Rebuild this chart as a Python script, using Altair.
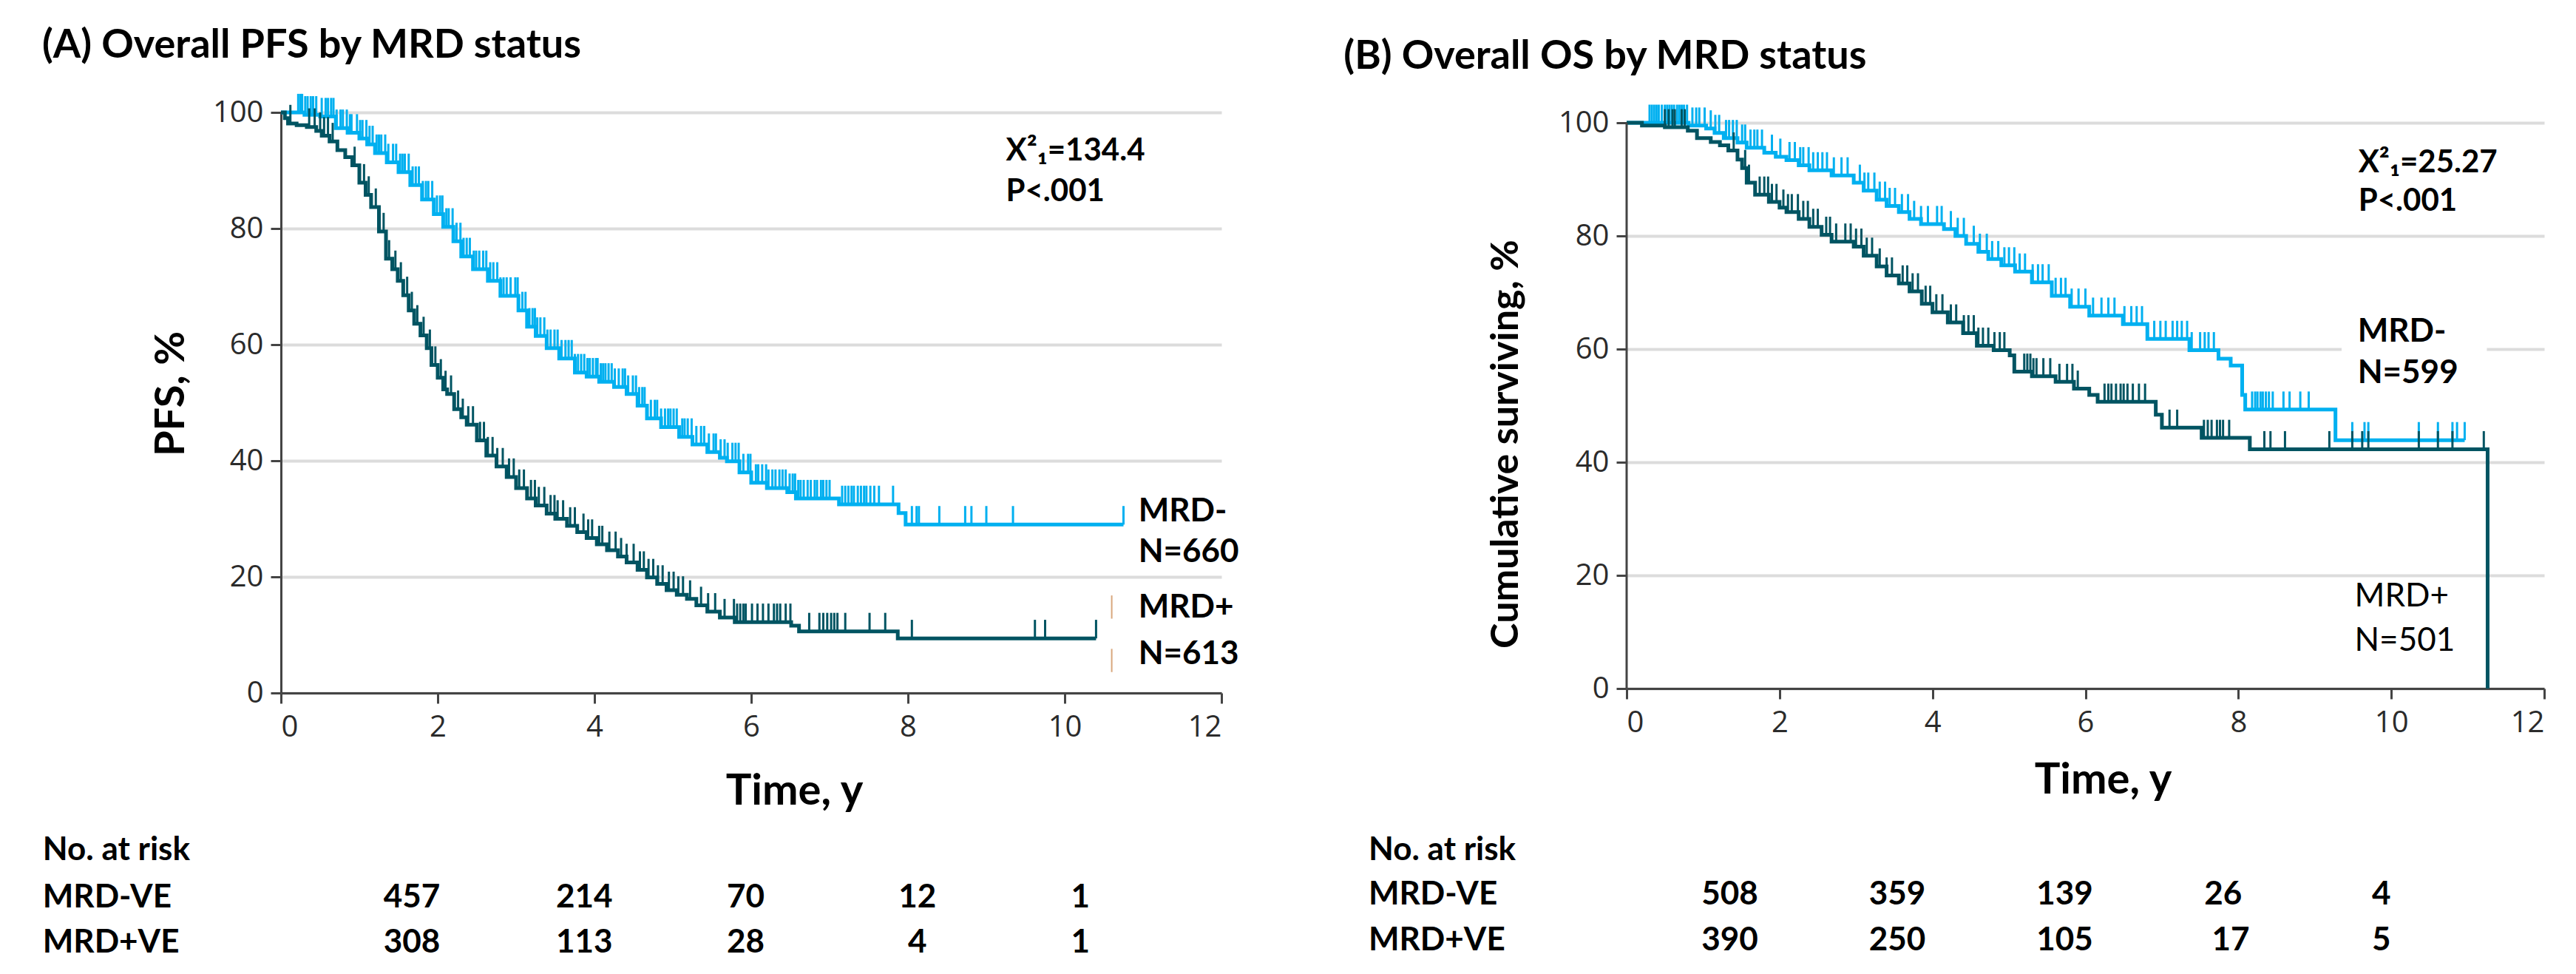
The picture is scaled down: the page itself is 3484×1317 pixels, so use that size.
import altair as alt
import pandas as pd
import numpy as np

# ---------------- data ----------------
# Panel A : PFS (Kaplan-Meier step points)
pfsA_neg_t = [0, 0.3, 0.5, 0.7, 0.85, 1.0, 1.1, 1.2, 1.35, 1.5, 1.65, 1.8, 1.95, 2.07, 2.2, 2.3, 2.45,
              2.64, 2.8, 3.03, 3.14, 3.25, 3.39, 3.55, 3.75, 3.9, 4.06, 4.25, 4.41, 4.55, 4.67, 4.85,
              5.08, 5.25, 5.44, 5.6, 5.69, 5.85, 6.0, 6.2, 6.46, 6.57, 7.12, 7.88, 7.97, 10.75]
pfsA_neg_s = [100, 99.6, 99.3, 97.3, 96.5, 95.5, 94.5, 93, 91.4, 89.7, 87.5, 85, 82.5, 80.3, 77.8, 75.2, 73,
              71, 68.4, 65.9, 63.1, 61.5, 59.4, 57.6, 55.2, 54.5, 53.6, 52.7, 51.5, 49.5, 47.3, 45.8,
              44.1, 42.8, 41.5, 40.5, 39.9, 38, 36.2, 35.3, 34.6, 33.5, 32.5, 31.0, 29.0, 29.0]
pfsA_pos_t = [0, 0.05, 0.09, 0.2, 0.33, 0.45, 0.52, 0.62, 0.72, 0.82, 0.91, 1.0, 1.08, 1.15, 1.25, 1.34,
              1.42, 1.49, 1.56, 1.63, 1.7, 1.78, 1.86, 1.92, 2.0, 2.07, 2.12, 2.21, 2.3, 2.37, 2.5, 2.62,
              2.75, 2.88, 3.0, 3.14, 3.25, 3.39, 3.5, 3.65, 3.78, 3.9, 4.03, 4.16, 4.3, 4.41, 4.55, 4.67,
              4.8, 4.92, 5.05, 5.18, 5.3, 5.44, 5.6, 5.79, 6.51, 6.61, 7.87, 10.4]
pfsA_pos_s = [100, 99, 98.1, 97.8, 97.5, 96.8, 96, 95, 93.5, 92.3, 90.9, 87.9, 85.8, 83.7, 79.5, 74.8,
              73, 71, 68.5, 65.9, 63.6, 61.6, 59.4, 56.5, 54.3, 52.3, 51.5, 48.9, 47.5, 46.2, 43.5, 40.9,
              39, 37.2, 35.3, 33.5, 32.3, 30.9, 30, 28.8, 27.7, 26.7, 25.6, 24.6, 23.5, 22.5, 21.2, 19.9,
              18.8, 17.7, 16.9, 16.2, 15.1, 14.0, 13.0, 12.2, 11.6, 10.6, 9.4, 9.4]
pfsA_neg_cens = [0.22, 0.25, 0.27, 0.31, 0.34, 0.38, 0.41, 0.45, 0.52, 0.57, 0.6, 0.64, 0.67, 0.71, 0.76,
                 0.79, 0.84, 0.88, 0.9, 0.97, 1.01, 1.04, 1.09, 1.13, 1.17, 1.22, 1.25, 1.28, 1.33, 1.37,
                 1.43, 1.47, 1.52, 1.55, 1.58, 1.63, 1.68, 1.72, 1.76, 1.81, 1.85, 1.88, 1.93, 1.99, 2.03,
                 2.06, 2.11, 2.14, 2.19, 2.24, 2.29, 2.33, 2.37, 2.41, 2.46, 2.49, 2.53, 2.58, 2.62, 2.67,
                 2.71, 2.76, 2.8, 2.84, 2.88, 2.93, 2.99, 3.02, 3.08, 3.12, 3.17, 3.21, 3.24, 3.27, 3.31,
                 3.36, 3.4, 3.44, 3.49, 3.53, 3.58, 3.63, 3.67, 3.71, 3.75, 3.79, 3.83, 3.87, 3.91, 3.94,
                 3.98, 4.02, 4.04, 4.08, 4.11, 4.14, 4.18, 4.22, 4.26, 4.31, 4.36, 4.39, 4.43, 4.49, 4.53,
                 4.57, 4.61, 4.64, 4.72, 4.77, 4.8, 4.85, 4.9, 4.94, 4.97, 5.01, 5.05, 5.12, 5.15, 5.19,
                 5.24, 5.3, 5.36, 5.4, 5.46, 5.52, 5.55, 5.61, 5.66, 5.7, 5.76, 5.8, 5.84, 5.9, 5.96, 5.99,
                 6.06, 6.09, 6.14, 6.19, 6.22, 6.27, 6.31, 6.36, 6.4, 6.44, 6.49, 6.53, 6.56, 6.6, 6.63,
                 6.67, 6.72, 6.76, 6.81, 6.84, 6.89, 6.92, 6.96, 7.0, 7.16, 7.2, 7.24, 7.28, 7.31, 7.36,
                 7.4, 7.44, 7.47, 7.52, 7.57, 7.63, 7.81, 8.05, 8.11, 8.14, 8.4, 8.73, 8.81, 9.0, 9.34,
                 10.75]
pfsA_pos_cens = [0.12, 0.36, 0.43, 0.5, 0.55, 0.6, 0.66, 0.94, 1.0, 1.06, 1.12, 1.21, 1.26, 1.31, 1.38,
                 1.46, 1.53, 1.61, 1.67, 1.74, 1.82, 1.9, 1.97, 2.04, 2.1, 2.17, 2.26, 2.32, 2.39, 2.45,
                 2.54, 2.59, 2.64, 2.7, 2.76, 2.83, 2.91, 2.97, 3.04, 3.1, 3.19, 3.24, 3.29, 3.36, 3.44,
                 3.49, 3.53, 3.6, 3.69, 3.75, 3.86, 3.92, 3.97, 4.06, 4.1, 4.19, 4.27, 4.34, 4.41, 4.5,
                 4.58, 4.63, 4.69, 4.75, 4.81, 4.87, 4.95, 5.01, 5.07, 5.13, 5.22, 5.36, 5.45, 5.54, 5.66,
                 5.78, 5.82, 5.86, 5.9, 5.93, 6.01, 6.08, 6.15, 6.22, 6.29, 6.33, 6.37, 6.44, 6.5, 6.74,
                 6.87, 6.92, 6.97, 7.02, 7.06, 7.1, 7.2, 7.51, 7.71, 8.05, 9.62, 9.75, 10.4]

# Panel B : OS
osB_neg_t = [0, 0.81, 1.04, 1.15, 1.27, 1.45, 1.57, 1.8, 1.95, 2.09, 2.25, 2.39, 2.68, 2.97, 3.1, 3.27,
             3.4, 3.56, 3.7, 3.85, 4.15, 4.3, 4.44, 4.6, 4.73, 4.9, 5.08, 5.3, 5.56, 5.8, 6.05, 6.49,
             6.81, 7.36, 7.74, 7.9, 8.05, 8.09, 9.27, 10.96]
osB_neg_s = [100, 99.5, 99.0, 98.2, 97.3, 96.5, 95.6, 94.7, 94.0, 93.4, 92.5, 91.6, 90.7, 89.4, 88, 86.4,
             85.3, 84.2, 83, 82.1, 81.2, 80, 78.6, 77.2, 75.9, 74.8, 73.7, 71.8, 69.4, 67.5, 65.9, 64.4,
             61.8, 59.8, 58.3, 57.1, 51.9, 49.3, 43.9, 43.9]
osB_pos_t = [0, 0.2, 0.5, 0.8, 0.92, 1.1, 1.22, 1.33, 1.45, 1.51, 1.57, 1.68, 1.86, 2.0, 2.09, 2.25,
             2.39, 2.55, 2.68, 2.97, 3.1, 3.27, 3.4, 3.56, 3.7, 3.86, 4.0, 4.2, 4.4, 4.58, 4.8, 5.01,
             5.07, 5.3, 5.61, 5.85, 6.05, 6.16, 6.92, 7.0, 7.52, 8.15, 11.26, 11.26]
osB_pos_s = [100, 99.5, 99.2, 98.6, 97.3, 96.6, 96.0, 95.1, 93.5, 92, 89.4, 87.3, 86, 85, 84.2, 83,
             81.6, 80.2, 79.0, 78.1, 76.5, 74.6, 73, 71.6, 70.2, 68, 66.5, 64.7, 62.8, 60.6, 59.8, 58.9,
             56, 55.2, 54.2, 53, 51.9, 50.7, 48.4, 46.1, 44.3, 42.3, 42.3, 0]
osB_neg_cens = [0.3, 0.33, 0.36, 0.39, 0.42, 0.46, 0.5, 0.53, 0.56, 0.59, 0.62, 0.66, 0.69, 0.72, 0.75,
                0.79, 0.86, 0.91, 0.95, 1.02, 1.1, 1.16, 1.21, 1.3, 1.34, 1.39, 1.44, 1.51, 1.55, 1.62,
                1.67, 1.71, 1.77, 1.9, 2.01, 2.13, 2.2, 2.27, 2.31, 2.38, 2.44, 2.5, 2.56, 2.62, 2.71,
                2.81, 2.89, 3.05, 3.11, 3.16, 3.24, 3.31, 3.38, 3.44, 3.51, 3.6, 3.68, 3.76, 3.85, 3.94,
                4.06, 4.12, 4.24, 4.33, 4.41, 4.54, 4.62, 4.71, 4.78, 4.86, 4.94, 5.0, 5.07, 5.14, 5.21,
                5.31, 5.38, 5.44, 5.52, 5.61, 5.68, 5.74, 5.82, 5.91, 6.0, 6.1, 6.21, 6.3, 6.38, 6.51,
                6.6, 6.67, 6.74, 6.9, 6.98, 7.05, 7.14, 7.2, 7.26, 7.33, 7.39, 7.5, 7.56, 7.61, 7.68,
                8.18, 8.22, 8.25, 8.29, 8.32, 8.36, 8.4, 8.45, 8.59, 8.67, 8.81, 8.92, 9.27, 9.49, 9.65,
                9.7, 10.36, 10.61, 10.8, 10.86, 10.96]
osB_pos_cens = [0.5, 0.55, 0.6, 0.63, 0.72, 0.76, 1.4, 1.55, 1.6, 1.74, 1.8, 1.85, 1.9, 1.96, 2.05,
                2.11, 2.16, 2.24, 2.31, 2.37, 2.44, 2.5, 2.61, 2.66, 2.74, 2.86, 2.93, 3.0, 3.07, 3.14,
                3.21, 3.31, 3.4, 3.47, 3.61, 3.67, 3.74, 3.81, 3.91, 3.97, 4.05, 4.13, 4.24, 4.31, 4.41,
                4.47, 4.54, 4.6, 4.66, 4.73, 4.81, 4.88, 4.94, 5.2, 5.24, 5.28, 5.32, 5.36, 5.45, 5.54,
                5.66, 5.76, 5.83, 5.9, 6.25, 6.3, 6.34, 6.4, 6.46, 6.5, 6.55, 6.62, 6.7, 6.78, 7.1,
                7.2, 7.55, 7.6, 7.65, 7.72, 7.76, 7.8, 7.88, 8.34, 8.42, 8.61, 9.19, 9.49, 9.62, 9.7,
                10.36, 10.61, 10.8, 11.21]

# numbers at risk
risk_cols_A = [1.67, 3.87, 5.93, 8.12, 10.2]
risk_A_neg = [457, 214, 70, 12, 1]
risk_A_pos = [308, 113, 28, 4, 1]
risk_cols_B_neg = [1.35, 3.54, 5.73, 7.8, 9.87]
risk_cols_B_pos = [1.35, 3.54, 5.73, 7.9, 9.87]
risk_B_neg = [508, 359, 139, 26, 4]
risk_B_pos = [390, 250, 105, 17, 5]

x_ticks = [0, 2, 4, 6, 8, 10, 12]
y_ticks = [0, 20, 40, 60, 80, 100]

# ---------------- styles ----------------
NEG = "#00B0F0"
POS = "#005462"
AX = "#444444"
GRID = "#dcdcdc"
BOLD = "Lato"
TICKF = "Open Sans"
TAN = "#d9a77c"


def curves_df(nt, ns, pt, ps):
    rows = []
    for g, ts, ss in (("neg", nt, ns), ("pos", pt, ps)):
        for i, (t, s) in enumerate(zip(ts, ss)):
            rows.append({"t": t, "s": s, "grp": g, "i": i})
    return pd.DataFrame(rows)


def cens_df(nt, ns, ncen, pt, ps, pcen, h):
    rows = []
    for g, ts, ss, cs in (("neg", nt, ns, ncen), ("pos", pt, ps, pcen)):
        ta = np.array(ts)
        for c in cs:
            idx = int(np.searchsorted(ta, c, side="right") - 1)
            v = ss[idx]
            rows.append({"t": c, "s": v, "s2": v + h, "grp": g})
    return pd.DataFrame(rows)


def risk_df(cols_n, vals_n, cols_p, vals_p, yn, yp):
    rows = []
    for c, v in zip(cols_n, vals_n):
        rows.append({"t": c, "s": yn, "lab": str(v)})
    for c, v in zip(cols_p, vals_p):
        rows.append({"t": c, "s": yp, "lab": str(v)})
    return pd.DataFrame(rows)


color_scale = alt.Scale(domain=["neg", "pos"], range=[NEG, POS])


def text_layer(txt, tx, sy, size, weight="bold", align="left"):
    return alt.Chart().mark_text(text=txt, align=align, baseline="alphabetic", font=BOLD,
                                 fontWeight=weight, fontSize=size, color="black").encode(
        x=alt.datum(tx), y=alt.datum(sy))


def panel(title, title_pos, ytitle, ytitle_size, ytitle_x, ytitle_y, xtitle_x, xtitle_y,
          width, height, ymax, y_domain_line,
          nt, ns, ncen, pt, ps, pcen,
          stats, stats_pos, labels, boxes, marks,
          risk, risk_lab_t, risk_rows_s):
    xscale = alt.Scale(domain=[0, 12], nice=False, zero=False)
    yscale = alt.Scale(domain=[0, ymax], nice=False, zero=True)
    xaxis = alt.Axis(values=x_ticks, title="Time, y", grid=False, domainColor=AX, domainWidth=3,
                     tickColor=AX, tickWidth=3, tickSize=14, labelFont=TICKF, labelFontSize=40,
                     labelColor="#2b2b2b", labelPadding=12, titleFont=BOLD, titleFontSize=58,
                     titleFontWeight="bold", titleColor="black", titleX=xtitle_x, titleY=xtitle_y,
                     titleAlign="center", titleBaseline="alphabetic", format="d")
    yaxis = alt.Axis(values=y_ticks, title=ytitle, grid=True, gridColor=GRID, gridWidth=4,
                     domain=y_domain_line, domainColor=AX, domainWidth=3,
                     tickColor=AX, tickWidth=3, tickSize=14, labelFont=TICKF, labelFontSize=40,
                     labelColor="#2b2b2b", labelPadding=10, titleFont=BOLD, titleFontSize=ytitle_size,
                     titleFontWeight="bold", titleColor="black", titleX=ytitle_x, titleY=ytitle_y,
                     titleAlign="center", titleBaseline="middle", titleAngle=270, format="d")

    cdf = curves_df(nt, ns, pt, ps)
    lines = alt.Chart(cdf).mark_line(interpolate="step-after", strokeWidth=5).encode(
        x=alt.X("t:Q", scale=xscale, axis=xaxis),
        y=alt.Y("s:Q", scale=yscale, axis=yaxis),
        color=alt.Color("grp:N", scale=color_scale, legend=None),
        order=alt.Order("i:Q"),
    )
    cens = alt.Chart(cens_df(nt, ns, ncen, pt, ps, pcen, 3.2)).mark_rule(strokeWidth=3).encode(
        x="t:Q", y="s:Q", y2="s2:Q",
        color=alt.Color("grp:N", scale=color_scale, legend=None),
    )
    layers = []
    for (x1, x2, y1, y2) in boxes:
        layers.append(alt.Chart().mark_rect(color="white").encode(
            x=alt.datum(x1), x2=alt.datum(x2), y=alt.datum(y1), y2=alt.datum(y2)))
    layers += [lines, cens]
    if not y_domain_line:
        layers.append(alt.Chart().mark_rule(color=AX, strokeWidth=3).encode(
            x=alt.datum(0), y=alt.datum(0), y2=alt.datum(100)))
    for (mx, my1, my2) in marks:
        layers.append(alt.Chart().mark_rule(color=TAN, strokeWidth=2).encode(
            x=alt.datum(mx), y=alt.datum(my1), y2=alt.datum(my2)))
    # panel title
    layers.append(text_layer(title, title_pos[0], title_pos[1], 54))
    # statistics
    for k, txt in enumerate(stats):
        layers.append(text_layer(txt, stats_pos[0], stats_pos[1][k], 42))
    # curve labels
    for (txt, tx, sy, wt) in labels:
        layers.append(text_layer(txt, tx, sy, 44, wt))
    # risk table
    for txt, sy in zip(["No. at risk", "MRD-VE", "MRD+VE"], risk_rows_s):
        layers.append(text_layer(txt, risk_lab_t, sy, 44))
    layers.append(alt.Chart(risk).mark_text(align="center", baseline="alphabetic", font=BOLD,
                                            fontWeight="bold", fontSize=44, color="black").encode(
        x="t:Q", y="s:Q", text="lab:N"))

    return alt.layer(*layers).properties(width=width, height=height)


riskA = risk_df(risk_cols_A, risk_A_neg, risk_cols_A, risk_A_pos, -36.9, -44.7)
riskB = risk_df(risk_cols_B_neg, risk_B_neg, risk_cols_B_pos, risk_B_pos, -38.2, -46.3)

A = panel("(A) Overall PFS by MRD status", (-3.047, 109.4), "PFS, %", 56, -149, 380, 694, 150,
          1272, 785, 100, True,
          pfsA_neg_t, pfsA_neg_s, pfsA_neg_cens, pfsA_pos_t, pfsA_pos_s, pfsA_pos_cens,
          ["X\u00b2\u2081=134.4", "P<.001"], (9.25, [91.7, 84.7]),
          [("MRD-", 10.94, 29.5, "bold"), ("N=660", 10.94, 22.5, "bold"),
           ("MRD+", 10.94, 13.0, "bold"), ("N=613", 10.94, 5.0, "bold")],
          [],
          [(10.6, 12.8, 16.8), (10.6, 3.6, 7.6)],
          riskA, -3.04, [-28.8, -36.9, -44.7])

B = panel("(B) Overall OS by MRD status", (-3.70, 109.5), "Cumulative surviving, %", 52, -164, 448, 644, 141,
          1241, 779, 100 * 779 / 765, False,
          osB_neg_t, osB_neg_s, osB_neg_cens, osB_pos_t, osB_pos_s, osB_pos_cens,
          ["X\u00b2\u2081=25.27", "P<.001"], (9.57, [91.2, 84.4]),
          [("MRD-", 9.56, 61.3, "bold"), ("N=599", 9.56, 54.0, "bold"),
           ("MRD+", 9.52, 14.5, "normal"), ("N=501", 9.52, 6.7, "normal")],
          [(9.35, 11.25, 53.5, 64.5), (9.27, 11.17, 4.0, 18.0)],
          [],
          riskB, -3.375, [-30.3, -38.2, -46.3])

chart = alt.hconcat(A, B, spacing=548, bounds="flush").properties(
    padding={"left": 49, "top": 27, "right": 5, "bottom": 5}
).configure_view(stroke=None)

chart.save("out.html", embed_options={"renderer": "svg", "actions": False})
